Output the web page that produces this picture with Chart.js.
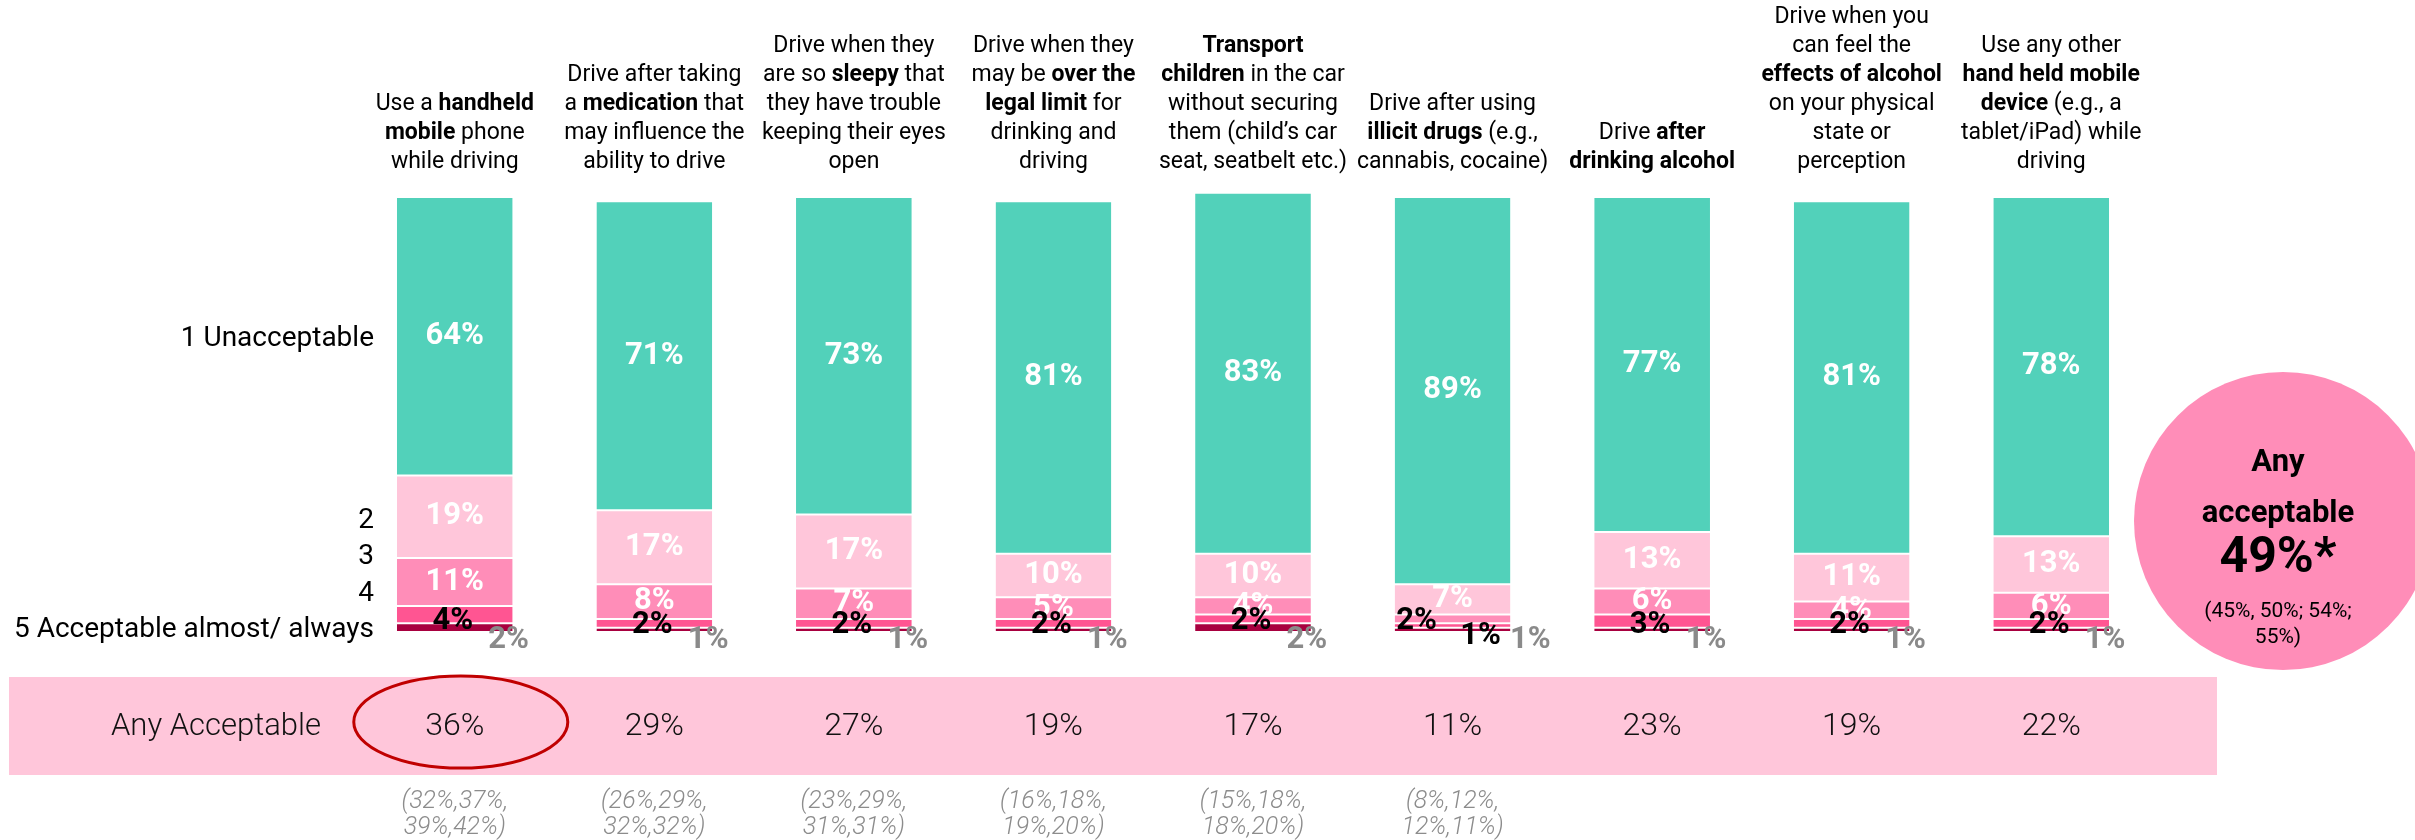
<!DOCTYPE html>
<html>
<head>
<meta charset="utf-8">
<script src="https://cdn.jsdelivr.net/npm/chart.js@4/dist/chart.umd.min.js"></script>
<style>
  html, body { margin: 0; padding: 0; background: #ffffff; }
  #wrap { width: 2415px; height: 840px; position: relative; }
</style>
</head>
<body>
<div id="wrap"><canvas id="c" width="2415" height="840"></canvas></div>
<script>
// ---------- DATA ----------
const categories = [
  ["Use a **handheld**", "**mobile** phone", "while driving"],
  ["Drive after taking", "a **medication** that", "may influence the", "ability to drive"],
  ["Drive when they", "are so **sleepy** that", "they have trouble", "keeping their eyes", "open"],
  ["Drive when they", "may be **over the**", "**legal limit** for", "drinking and", "driving"],
  ["**Transport**", "**children** in the car", "without securing", "them (child\u2019s car", "seat, seatbelt etc.)"],
  ["Drive after using", "**illicit drugs** (e.g.,", "cannabis, cocaine)"],
  ["Drive **after**", "**drinking alcohol**"],
  ["Drive when you", "can feel the", "**effects of alcohol**", "on your physical", "state or", "perception"],
  ["Use any other", "**hand held mobile**", "**device** (e.g., a", "tablet/iPad) while", "driving"]
];
const seriesNames = ["5 Acceptable almost/ always", "4", "3", "2", "1 Unacceptable"];
const s5 = [2, 1, 1, 1, 2, 1, 1, 1, 1];
const s4 = [4, 2, 2, 2, 2, 1, 3, 2, 2];
const s3 = [11, 8, 7, 5, 4, 2, 6, 4, 6];
const s2 = [19, 17, 17, 10, 10, 7, 13, 11, 13];
const s1 = [64, 71, 73, 81, 83, 89, 77, 81, 78];
const anyAcceptable = [36, 29, 27, 19, 17, 11, 23, 19, 22];
const anyAcceptableCI = [
  ["(32%,37%,", "39%,42%)"],
  ["(26%,29%,", "32%,32%)"],
  ["(23%,29%,", "31%,31%)"],
  ["(16%,18%,", "19%,20%)"],
  ["(15%,18%,", "18%,20%)"],
  ["(8%,12%,", "12%,11%)"],
  null, null, null
];
const yTickLabels = ["1 Unacceptable", "2", "3", "4", "5 Acceptable almost/ always"];
const yTickValues = [67.3, 25.6, 17.3, 8.8, 0.5];
const bandLabel = "Any Acceptable";
const overallLines = ["Any", "acceptable", "49%*", "(45%, 50%; 54%;", "55%)"];

// ---------- STYLE ----------
const FONT = "Roboto, 'Liberation Sans', sans-serif";
const colors = ["#A8003F", "#FF5592", "#FF8DB8", "#FFC6DA", "#52D1BA"];

function drawRich(ctx, line, cx, cy, size) {
  const parts = line.split("**");
  let total = 0;
  const segs = parts.map((t, i) => {
    ctx.font = (i % 2 ? "bold " : "") + size + "px " + FONT;
    const w = ctx.measureText(t).width;
    total += w;
    return { t, i, w };
  });
  let x = cx - total / 2;
  ctx.textAlign = "left";
  ctx.textBaseline = "middle";
  segs.forEach(s => {
    ctx.font = (s.i % 2 ? "bold " : "") + size + "px " + FONT;
    ctx.fillText(s.t, x, cy);
    x += s.w;
  });
}

const decorPlugin = {
  id: "decor",
  beforeDatasetsDraw(chart) {
    const ctx = chart.ctx;
    const xs = chart.scales.x;
    const ys = chart.scales.y;
    ctx.save();
    // y-axis category labels
    ctx.fillStyle = "#000";
    ctx.textAlign = "right";
    ctx.textBaseline = "middle";
    ctx.font = "28px " + FONT;
    yTickValues.forEach((v, i) => {
      ctx.fillText(yTickLabels[i], 374, ys.getPixelForValue(v));
    });
    // Bottom band
    ctx.fillStyle = "#FFC6DA";
    ctx.fillRect(9, 677, 2208, 98);
    ctx.fillStyle = "#111";
    ctx.textAlign = "center";
    ctx.font = "300 31px " + FONT;
    ctx.fillText(bandLabel, 216, 727);
    anyAcceptable.forEach((v, i) => {
      const x = xs.getPixelForValue(i);
      ctx.font = "300 32px " + FONT;
      ctx.fillStyle = "#111";
      ctx.fillText(v + "%", x, 727);
      const ci = anyAcceptableCI[i];
      if (ci) {
        ctx.fillStyle = "#8c8c8c";
        ctx.font = "italic 300 25px " + FONT;
        ctx.fillText(ci[0], x, 802);
        ctx.fillText(ci[1], x, 828);
      }
    });
    // highlight ellipse on first value
    const x0 = xs.getPixelForValue(0);
    ctx.beginPath();
    ctx.ellipse(x0 + 6, 722, 107, 46, 0, 0, Math.PI * 2);
    ctx.strokeStyle = "#C00000";
    ctx.lineWidth = 3;
    ctx.stroke();
    // Overall circle
    ctx.beginPath();
    ctx.arc(2283, 521, 149, 0, Math.PI * 2);
    ctx.fillStyle = "#FF8DB8";
    ctx.fill();
    ctx.fillStyle = "#000";
    ctx.textAlign = "center";
    ctx.font = "bold 31px " + FONT;
    ctx.fillText(overallLines[0], 2278, 463);
    ctx.fillText(overallLines[1], 2278, 514);
    ctx.font = "bold 50px " + FONT;
    ctx.fillText(overallLines[2], 2278, 559);
    ctx.font = "21px " + FONT;
    ctx.fillText(overallLines[3], 2278, 612);
    ctx.fillText(overallLines[4], 2278, 638);
    // Headers
    ctx.fillStyle = "#000";
    categories.forEach((lines, i) => {
      const x = xs.getPixelForValue(i);
      const n = lines.length;
      lines.forEach((ln, j) => {
        drawRich(ctx, ln, x, 162 - (n - 1 - j) * 29, 23);
      });
    });
    ctx.restore();
  },
  afterDatasetsDraw(chart) {
    const ctx = chart.ctx;
    ctx.save();
    ctx.textAlign = "center";
    ctx.textBaseline = "middle";
    ctx.font = "bold 31px " + FONT;
    const n = categories.length;
    for (let i = 0; i < n; i++) {
      let smallThird = false;
      // datasets: 0=s5, 1=s4, 2=s3, 3=s2, 4=s1
      for (let d = 4; d >= 0; d--) {
        const meta = chart.getDatasetMeta(d);
        const el = meta.data[i];
        const v = chart.data.datasets[d].data[i];
        const cx = el.x;
        const cy = (el.y + el.base) / 2;
        const half = el.width / 2;
        const txt = v + "%";
        if (d >= 3) {
          ctx.fillStyle = "#ffffff";
          ctx.fillText(txt, cx, cy);
        } else if (d === 2) {
          if (v >= 4) {
            ctx.fillStyle = "#ffffff";
            ctx.fillText(txt, cx, cy);
          } else {
            smallThird = true;
            ctx.fillStyle = "#000000";
            ctx.fillText(txt, cx - 36, cy + 2);
          }
        } else if (d === 1) {
          ctx.fillStyle = "#000000";
          if (smallThird) ctx.fillText(txt, cx + 28, el.base + 9);
          else ctx.fillText(txt, cx - 2, el.base - 2);
        } else {
          ctx.fillStyle = "#8a8a8a";
          const dx = smallThird ? half + 20 : half - 4;
          ctx.fillText(txt, cx + dx, el.base + 8);
        }
      }
    }
    ctx.restore();
  }
};

function build() {
  const series = [s5, s4, s3, s2, s1];
  new Chart(document.getElementById("c"), {
    type: "bar",
    data: {
      labels: categories.map(l => l.join(" ").replace(/\*\*/g, "")),
      datasets: series.map((s, k) => ({
        label: seriesNames[k],
        data: s,
        backgroundColor: colors[k],
        borderColor: "#ffffff",
        borderWidth: { top: 1, bottom: 1, left: 0, right: 0 },
        borderSkipped: false,
        categoryPercentage: 1.0,
        barPercentage: 0.58,
        clip: false
      }))
    },
    options: {
      responsive: false,
      animation: false,
      events: [],
      layout: { padding: { top: 197, bottom: 208, left: 355, right: 264 } },
      plugins: { legend: { display: false }, tooltip: { enabled: false } },
      scales: {
        x: { stacked: true, display: false },
        y: { stacked: true, min: 0, max: 100, display: false }
      }
    },
    plugins: [decorPlugin]
  });
}

const loads = [
  "23px Roboto", "bold 23px Roboto", "bold 31px Roboto", "300 31px Roboto", "italic 300 25px Roboto", "28px Roboto"
].map(f => document.fonts.load(f).catch(() => null));
Promise.all(loads).then(build, build);
</script>
</body>
</html>
